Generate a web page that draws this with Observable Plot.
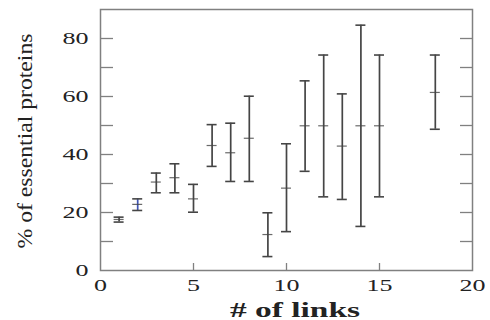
<!DOCTYPE html>
<html>
<head>
<meta charset="utf-8">
<script src="https://cdn.jsdelivr.net/npm/d3@7"></script>
<script src="https://cdn.jsdelivr.net/npm/@observablehq/plot@0.6"></script>
<style>
  html, body { margin: 0; padding: 0; background: #fff; }
  #chart svg { display: block; }
</style>
</head>
<body>
<div id="chart"></div>
<script>
const links = [1, 2, 3, 4, 5, 6, 7, 8, 9, 10, 11, 12, 13, 14, 15, 18];
const mean  = [17.6, 22.8, 30.5, 32.0, 24.7, 43.1, 40.6, 45.6, 12.4, 28.4, 49.9, 49.9, 42.9, 49.9, 49.9, 61.4];
const low   = [16.7, 20.7, 26.8, 26.8, 20.1, 35.9, 30.7, 30.7, 4.8, 13.4, 34.2, 25.4, 24.5, 15.2, 25.4, 48.7];
const high  = [18.4, 24.7, 33.6, 36.8, 29.7, 50.3, 50.8, 60.1, 19.9, 43.7, 65.4, 74.3, 60.9, 84.6, 74.3, 74.3];
const xTickLabels = [0, 5, 10, 15, 20];
const yTickLabels = [0, 20, 40, 60, 80];
const yMinorTicks = [10, 20, 30, 40, 50, 60, 70, 80];
const xMinorTicks = [5, 10, 15];

const data = links.map((x, i) => ({x, mean: mean[i], low: low[i], high: high[i]}));
const barColor = "#454545";
const serif = "'Liberation Serif', 'Times New Roman', serif";

const plot = Plot.plot({
  width: 490,
  height: 320,
  marginLeft: 100,
  marginRight: 18,
  marginTop: 9,
  marginBottom: 50,
  style: {fontFamily: serif, fontSize: "16px", color: "#222", background: "#fff"},
  x: {domain: [0, 20], axis: null, label: null},
  y: {domain: [0, 90], axis: null, label: null},
  marks: [
    Plot.frame({stroke: "#808080", strokeWidth: 1.5}),
    Plot.ruleY(yMinorTicks, {y: d => d, x1: 0, x2: 0, insetRight: -13, stroke: "#808080", strokeWidth: 1.3}),
    Plot.ruleY(yMinorTicks, {y: d => d, x1: 20, x2: 20, insetLeft: -12, stroke: "#808080", strokeWidth: 1.3}),
    Plot.ruleX(xMinorTicks, {x: d => d, y1: 0, y2: 0, insetBottom: 7, stroke: "#808080", strokeWidth: 1.3}),
    Plot.axisX({ticks: xTickLabels, tickSize: 0, tickPadding: 9, tickFormat: d => String(d), fontSize: 16, label: null}),
    Plot.axisY({ticks: yTickLabels, tickSize: 0, tickPadding: 12, tickFormat: d => String(d), fontSize: 16, label: null}),
    Plot.ruleX(data, {x: "x", y1: "low", y2: "high", stroke: d => d.x === 2 ? "#3f55b5" : barColor, strokeWidth: 1.7}),
    Plot.ruleY(data, {y: "high", x1: "x", x2: "x", insetLeft: -5, insetRight: -5, stroke: barColor, strokeWidth: 1.6}),
    Plot.ruleY(data, {y: "low", x1: "x", x2: "x", insetLeft: -5, insetRight: -5, stroke: barColor, strokeWidth: 1.6}),
    Plot.ruleY(data, {y: "mean", x1: "x", x2: "x", insetLeft: -5, insetRight: -5, stroke: barColor, strokeWidth: 1.2, strokeOpacity: 0.8})
  ]
});

const svg = d3.select(plot);
// stretch tick labels horizontally like the reference
svg.selectAll("g[aria-label='x-axis tick label'] text, g[aria-label='y-axis tick label'] text")
  .each(function() {
    const t = d3.select(this);
    const n = t.text().length;
    t.attr("textLength", n * 13).attr("lengthAdjust", "spacingAndGlyphs");
  });

// axis titles
svg.append("text")
  .attr("transform", "translate(32,141) rotate(-90)")
  .attr("text-anchor", "middle")
  .attr("font-family", serif)
  .attr("font-size", 20)
  .attr("fill", "#222")
  .attr("textLength", 215)
  .attr("lengthAdjust", "spacingAndGlyphs")
  .text("% of essential proteins");

svg.append("text")
  .attr("x", 295)
  .attr("y", 317)
  .attr("text-anchor", "middle")
  .attr("font-family", serif)
  .attr("font-size", 20)
  .attr("font-weight", "bold")
  .attr("fill", "#222")
  .attr("textLength", 130)
  .attr("lengthAdjust", "spacingAndGlyphs")
  .text("# of links");

document.getElementById("chart").appendChild(plot);
</script>
</body>
</html>
